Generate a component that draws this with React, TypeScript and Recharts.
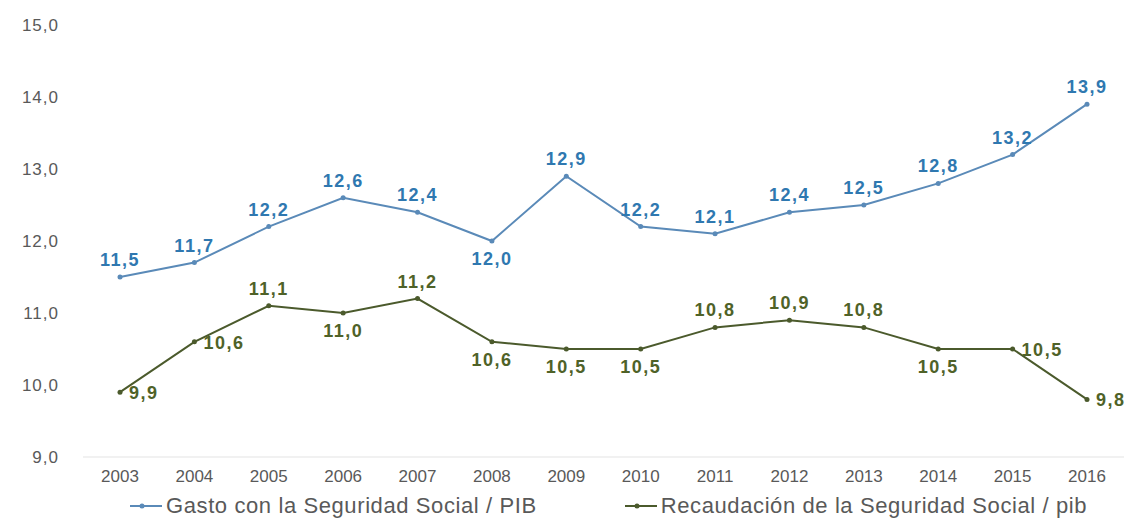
import React from "react";
import { LineChart, Line, XAxis, YAxis, Legend, LabelList } from "recharts";

const years = ["2003", "2004", "2005", "2006", "2007", "2008", "2009", "2010", "2011", "2012", "2013", "2014", "2015", "2016"];
const gasto = [11.5, 11.7, 12.2, 12.6, 12.4, 12.0, 12.9, 12.2, 12.1, 12.4, 12.5, 12.8, 13.2, 13.9];
const recaudacion = [9.9, 10.6, 11.1, 11.0, 11.2, 10.6, 10.5, 10.5, 10.8, 10.9, 10.8, 10.5, 10.5, 9.8];
const yTicks = [9, 10, 11, 12, 13, 14, 15];

// where each value label sits relative to its point
const gastoLabelPos = ["top", "top", "top", "top", "top", "bottom", "top", "top", "top", "top", "top", "top", "top", "top"];
const recLabelPos = ["right", "right", "top", "bottom", "top", "bottom", "bottom", "bottom", "top", "top", "top", "bottom", "right", "right"];

const data = years.map((y, i) => ({ year: y, gasto: gasto[i], rec: recaudacion[i] }));

const BLUE_LINE = "#5a8ab8";
const BLUE_TEXT = "#2f78b0";
const GREEN_LINE = "#4b5a2c";
const GREEN_TEXT = "#4f6228";
const AXIS_TEXT = "#595959";
const FONT = "'Liberation Sans', Arial, sans-serif";

const fmt = (v: number) => v.toFixed(1).replace(".", ",");

const makeLabel = (positions: string[], color: string) => (props: any) => {
  const { x, y, value, index } = props;
  const pos = positions[index];
  let dx = 0;
  let dy = -11;
  let anchor: "middle" | "start" = "middle";
  if (pos === "bottom") dy = 24;
  if (pos === "right") {
    dx = 9;
    dy = 7;
    anchor = "start";
  }
  return (
    <text
      x={x + dx}
      y={y + dy}
      textAnchor={anchor}
      fill={color}
      fontSize={18}
      fontWeight="bold"
      letterSpacing={1.5}
      fontFamily={FONT}
    >
      {fmt(value)}
    </text>
  );
};

const LegendIcon = ({ color }: { color: string }) => (
  <svg width={36} height={12} style={{ marginRight: 2 }}>
    <line x1={2} y1={6} x2={34} y2={6} stroke={color} strokeWidth={2} />
    <circle cx={14} cy={6} r={2.5} fill={color} />
  </svg>
);

const renderLegend = () => (
  <div
    style={{
      display: "flex",
      justifyContent: "flex-start",
      paddingLeft: 128,
      gap: 86,
      fontFamily: FONT,
      fontSize: 22,
      letterSpacing: 0.6,
      color: AXIS_TEXT,
      whiteSpace: "nowrap",
    }}
  >
    <div style={{ display: "flex", alignItems: "center" }}>
      <LegendIcon color={BLUE_LINE} />
      <span>Gasto con la Seguridad Social / PIB</span>
    </div>
    <div style={{ display: "flex", alignItems: "center" }}>
      <LegendIcon color={GREEN_LINE} />
      <span>Recaudación de la Seguridad Social / pib</span>
    </div>
  </div>
);

export default function App() {
  return (
    <div style={{ position: "absolute", left: 0, top: 0, background: "#fff" }}>
      <LineChart width={1130} height={522} data={data} margin={{ top: 25, right: 6, left: 0, bottom: 0 }}>
        <XAxis
          dataKey="year"
          padding={{ left: 37, right: 37 }}
          axisLine={{ stroke: "#e3e3e3" }}
          tickLine={false}
          height={36}
          tick={{ fill: AXIS_TEXT, fontSize: 17, fontFamily: FONT }}
          tickMargin={7}
        />
        <YAxis
          domain={[9, 15]}
          ticks={yTicks}
          width={83}
          axisLine={false}
          tickLine={false}
          tickFormatter={fmt}
          tick={{ fill: AXIS_TEXT, fontSize: 17, fontFamily: FONT, letterSpacing: 1 }}
          tickMargin={18}
        />
        <Legend verticalAlign="bottom" height={29} wrapperStyle={{ left: 0, width: 1130 }} content={renderLegend} />
        <Line
          dataKey="gasto"
          stroke={BLUE_LINE}
          strokeWidth={2}
          dot={{ r: 2.5, fill: BLUE_LINE, stroke: BLUE_LINE, strokeWidth: 0 }}
          isAnimationActive={false}
        >
          <LabelList dataKey="gasto" content={makeLabel(gastoLabelPos, BLUE_TEXT)} />
        </Line>
        <Line
          dataKey="rec"
          stroke={GREEN_LINE}
          strokeWidth={2}
          dot={{ r: 2.5, fill: GREEN_LINE, stroke: GREEN_LINE, strokeWidth: 0 }}
          isAnimationActive={false}
        >
          <LabelList dataKey="rec" content={makeLabel(recLabelPos, GREEN_TEXT)} />
        </Line>
      </LineChart>
    </div>
  );
}
